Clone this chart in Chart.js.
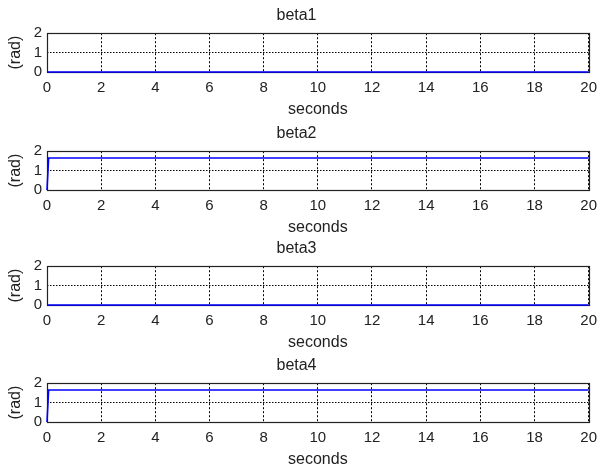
<!DOCTYPE html>
<html>
<head>
<meta charset="utf-8">
<title>beta1 - beta4</title>
<script src="https://cdn.jsdelivr.net/npm/chart.js@4.4.1/dist/chart.umd.min.js"></script>
<style>
    body { margin: 0; background: #fff; }
    #wrap { position: relative; width: 604px; height: 468px; overflow: hidden; }
    #wrap canvas { position: absolute; left: 0; }
</style>
</head>
<body>
<div id="wrap">
    <canvas id="c1" width="604" height="117" style="top:0px"></canvas>
    <canvas id="c2" width="604" height="117" style="top:118px"></canvas>
    <canvas id="c3" width="604" height="117" style="top:233px"></canvas>
    <canvas id="c4" width="604" height="117" style="top:350px"></canvas>
</div>
<script>
// ====== DATA ======
const timeSec = [0, 0.06, 20];
const beta1 = [0, 0, 0];
const beta2 = [0, 1.65, 1.65];
const beta3 = [0, 0, 0];
const beta4 = [0, 1.65, 1.65];

const plotTitles = ['beta1', 'beta2', 'beta3', 'beta4'];
const xTicks = [0, 2, 4, 6, 8, 10, 12, 14, 16, 18, 20];
const yTicks = [0, 1, 2];
const xLabel = 'seconds';
const yLabel = '(rad)';

const FONT = "'Liberation Sans', Arial, sans-serif";

// Black box around the plot area (drawn under the line, like MATLAB)
const frameBox = {
    id: 'frameBox',
    beforeDatasetsDraw(chart) {
        const { ctx, chartArea: a } = chart;
        ctx.save();
        ctx.strokeStyle = '#222';
        ctx.lineWidth = 1.2;
        ctx.strokeRect(Math.round(a.left) + 0.5, Math.round(a.top) + 0.5,
            Math.round(a.right - a.left), Math.round(a.bottom - a.top));
        ctx.restore();
    }
};

function makeChart(canvasId, title, values) {
    const ctx = document.getElementById(canvasId).getContext('2d');
    return new Chart(ctx, {
        type: 'line',
        data: {
            datasets: [{
                data: timeSec.map((t, i) => ({ x: t, y: values[i] })),
                borderColor: '#0000ff',
                borderWidth: 1.6,
                pointRadius: 0,
                tension: 0,
                fill: false,
                clip: false
            }]
        },
        options: {
            responsive: false,
            animation: false,
            events: [],
            layout: { padding: { left: 0, right: 11, top: 0, bottom: 0 } },
            plugins: {
                legend: { display: false },
                tooltip: { enabled: false },
                title: {
                    display: true,
                    text: title,
                    color: '#222',
                    font: { family: FONT, size: 16, weight: 'normal', lineHeight: 1.2 },
                    padding: { top: 6, bottom: 8 }
                }
            },
            scales: {
                x: {
                    type: 'linear',
                    min: 0,
                    max: 20,
                    afterBuildTicks: s => { s.ticks = xTicks.map(v => ({ value: v })); },
                    afterFit: s => { s.height = 45; },
                    border: { display: false, dash: [2, 2] },
                    grid: { color: '#000', lineWidth: 1, drawTicks: false },
                    ticks: {
                        color: '#222',
                        padding: 7,
                        maxRotation: 0,
                        autoSkip: false,
                        font: { family: FONT, size: 15 }
                    },
                    title: {
                        display: true,
                        text: xLabel,
                        color: '#222',
                        font: { family: FONT, size: 16, lineHeight: 1.2 },
                        padding: { top: 0, bottom: -2 }
                    }
                },
                y: {
                    min: 0,
                    max: 2,
                    afterBuildTicks: s => { s.ticks = yTicks.map(v => ({ value: v })); },
                    afterFit: s => { s.width = 47; },
                    border: { display: false, dash: [1.5, 1.5] },
                    grid: { color: '#000', lineWidth: 1, drawTicks: false },
                    ticks: {
                        color: '#222',
                        padding: 5,
                        autoSkip: false,
                        font: { family: FONT, size: 15 }
                    },
                    title: {
                        display: true,
                        text: yLabel,
                        color: '#222',
                        font: { family: FONT, size: 16, lineHeight: 1.2 },
                        padding: { top: 6, bottom: 0 }
                    }
                }
            }
        },
        plugins: [frameBox]
    });
}

makeChart('c1', plotTitles[0], beta1);
makeChart('c2', plotTitles[1], beta2);
makeChart('c3', plotTitles[2], beta3);
makeChart('c4', plotTitles[3], beta4);
</script>
</body>
</html>
